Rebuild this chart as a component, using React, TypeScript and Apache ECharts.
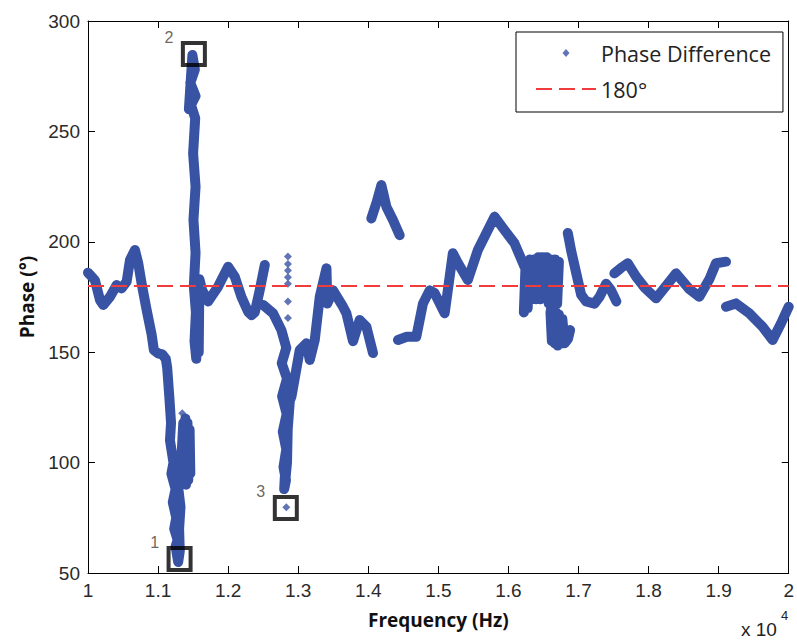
import React, { useEffect, useRef } from "react";
import * as echarts from "echarts";

// Frequency (Hz) and phase (deg) of the traced dense band; null = break between strands
const bandFreq: (number | null)[] = [
  10000, 10060, 10100, 10171, 10218, 10314, 10409, 10480, 10552, 10599, 10670, 10717, 10765, 10837, 10908, 10940,
  11000, 11060, 11110, 11130, 11160, 11185, 11170, 11220, 11190, 11250, 11210, 11260, 11230, 11280, 11250, 11287,
  11310, 11300, 11320, 11290, 11325, 11335,
  11360, 11370, 11390, 11400, 11420, 11430, 11450, 11460, null,
  11440, 11490, 11525, 11460, 11535, 11470, 11530, 11500, 11535, 11505, 11535, 11510, 11540, 11520, 11545, 11560,
  11580, 11590, 11630, 11714,
  11857, 12000, 12095, 12190, 12285, 12334, 12380, 12450, 12523, null,
  12499, 12642, 12760, 12830, 12765, 12840, 12770, 12835, 12780, 12830, 12790, 12825, 12800, 12820, 12810, 12840,
  12850, 12880, 12904, 12960,
  13022, 13118, 13165, 13236, 13307, 13403, 13415, 13497, 13639, 13688, 13782, 13877, 13973, 14067, null,
  14044, 14120, 14187, 14258, 14352, 14448, null,
  14424, 14550, 14685, 14780, 14875, 14946, 15090, 15207, 15279, 15421, 15564, 15659, 15802, 15944, 16087, 16230, null,
  16220, 16245, 16275, 16305, 16335, 16365, 16395, 16425, 16455, 16485, 16515, 16545, 16575, 16605, 16635, 16665,
  16695, 16720, 16600, 16620, 16640, 16660, 16680, 16700, 16720, 16745, 16770, 16800, 16850, 16880, null,
  16847, 16895, 16966, 17038, 17110, 17227, 17299, 17394, 17465, 17540, null,
  17512, 17600, 17702, 17822, 17950, 18107, 18250, 18392, 18580, 18724, 18867, 18962, 19105, null,
  19105, 19247, 19437, 19627, 19770, 19889, 20000,
];
const bandPhase: (number | null)[] = [
  186, 184, 182.5, 173.6, 171.4, 175.1, 180.4, 178.9, 182, 191.8, 196.3, 190.3, 181.2, 169.1, 158, 151,
  149.5, 149, 147, 143, 130, 118, 110, 100, 95, 88, 82, 75, 70, 65, 62, 55,
  60, 70, 80, 88, 95, 103,
  118, 92, 120, 90, 118, 92, 115, 95, null,
  260, 284.6, 278, 272, 266, 262, 256, 240, 225, 210, 195, 180, 168, 155, 147, 160,
  150, 183, 178, 173,
  179.7, 188.7, 184.2, 175, 168.3, 166.8, 168, 178, 189.5, null,
  171.4, 167.6, 160, 152, 145, 138, 130, 122, 114, 106, 98, 92, 88, 100, 90, 100,
  115, 128, 130, 140,
  151, 154, 146.5, 155.5, 175, 188, 172, 178, 170.6, 167.6, 155, 164.6, 161.5, 149.6, null,
  210.6, 218, 225.7, 215.9, 209.9, 203, null,
  155.5, 157, 157, 172, 178, 176.8, 167.6, 194.8, 190.4, 182.7, 196.3, 202.3, 211.4, 205.3, 199.3, 188.7, null,
  168, 190, 170, 192, 174, 192, 174, 193, 174, 193, 175, 193, 172, 192, 170, 192,
  172, 191, 168, 155, 168, 154, 168, 153, 167, 154, 165, 154, 156, 160, null,
  204, 196, 186, 176, 173, 172, 175, 181, 178, 173, null,
  185.7, 188, 190.3, 184.2, 179, 174.4, 180, 185.7, 178.6, 175.1, 183, 190.3, 191, null,
  170.6, 172.1, 167.6, 161.5, 155.5, 163, 170.6,
];

// Isolated diamond samples
const dotFreq = [12853, 12853, 12853, 12853, 12853, 12853, 12853, 11345, 12830];
const dotPhase = [193.3, 190, 187, 184, 181, 173, 165.5, 122.4, 79.8];

// Boxed (numbered) points
const markLabels = ["1", "2", "3"];
const markFreq = [11307, 11511, 12823];
const markPhase = [56.3, 285, 79.4];

// Reference line
const refFreq = [10000, 20000];
const refPhase = [180, 180];

const xTicks = { min: 10000, max: 20000, interval: 1000 };
const yTicks = { min: 50, max: 300, interval: 50 };

const BLUE = "#3953a4";
const RED = "#f03c3c";
// small diamond centred in a 60x8 legend slot (move-to corners fix the bounding box)
const LEGEND_DIAMOND = "path://M0,0M60,8M30,0L33.5,4L30,8L26.5,4Z";

export default function App() {
  const ref = useRef<HTMLDivElement>(null);
  useEffect(() => {
    if (!ref.current) return;
    const chart = echarts.init(ref.current, undefined, { renderer: "svg" });
    const band = bandFreq.map((f, i) =>
      f === null || bandPhase[i] === null ? ["-", "-"] : [f, bandPhase[i]]
    );
    const dots = dotFreq.map((f, i) => [f, dotPhase[i]]);
    const marks = markFreq.map((f, i) => ({ value: [f, markPhase[i]], name: markLabels[i] }));
    const refLine = refFreq.map((f, i) => [f, refPhase[i]]);

    const tickFont = { fontFamily: "Liberation Sans", fontSize: 19, color: "#2a2a2a" };
    const titleFont = { fontFamily: "Open Sans", fontWeight: "bold" as const, fontSize: 19, color: "#111" };
    const axisLine = { show: true, lineStyle: { color: "#000", width: 1 } };
    const axisTick = { show: true, inside: true, length: 7, lineStyle: { color: "#000", width: 1 } };

    chart.setOption({
      animation: false,
      backgroundColor: "#fff",
      grid: { left: 88, right: 7.5, top: 21, bottom: 69, containLabel: false },
      legend: {
        orient: "vertical",
        left: 516,
        top: 32,
        padding: [10, 12, 12, 19],
        itemWidth: 60,
        itemHeight: 8,
        itemGap: 14,
        borderColor: "#000",
        borderWidth: 1,
        backgroundColor: "#fff",
        textStyle: { fontFamily: "Open Sans", fontSize: 21.5, lineHeight: 20, color: "#222" },
        data: [
          { name: "Phase Difference", icon: LEGEND_DIAMOND },
          { name: "180°", itemStyle: { opacity: 0 } },
        ],
      },
      xAxis: [
        {
          type: "value",
          ...xTicks,
          position: "bottom",
          name: "Frequency (Hz)",
          nameLocation: "middle",
          nameGap: 37,
          nameTextStyle: titleFont,
          axisLine,
          axisTick,
          splitLine: { show: false },
          axisLabel: { ...tickFont, margin: 8, formatter: (v: number) => String(v / 10000) },
        },
        {
          type: "value",
          ...xTicks,
          position: "top",
          axisLine,
          axisTick,
          splitLine: { show: false },
          axisLabel: { show: false },
        },
      ],
      yAxis: [
        {
          type: "value",
          ...yTicks,
          position: "left",
          name: "Phase (°)",
          nameLocation: "middle",
          nameGap: 52,
          nameTextStyle: titleFont,
          axisLine,
          axisTick,
          splitLine: { show: false },
          axisLabel: { ...tickFont, margin: 8 },
        },
        {
          type: "value",
          ...yTicks,
          position: "right",
          axisLine,
          axisTick,
          splitLine: { show: false },
          axisLabel: { show: false },
        },
      ],
      series: [
        {
          name: "Phase Difference",
          type: "scatter",
          data: dots,
          symbol: "diamond",
          symbolSize: 8,
          itemStyle: { color: BLUE },
          z: 2,
        },
        {
          name: "Phase Difference",
          type: "line",
          data: band,
          connectNulls: false,
          showSymbol: false,
          symbol: "diamond",
          color: BLUE,
          lineStyle: { color: BLUE, width: 10, cap: "round", join: "round" },
          z: 2,
        },
        {
          name: "180°",
          type: "line",
          data: refLine,
          symbol: "none",
          color: RED,
          lineStyle: { color: RED, width: 2, type: [16, 7] },
          z: 4,
        },
        {
          name: "marks",
          type: "scatter",
          data: marks,
          symbol: "rect",
          symbolSize: 22,
          itemStyle: { color: "rgba(0,0,0,0)", borderColor: "#000", borderWidth: 4 },
          label: {
            show: true,
            formatter: (p: any) => p.name,
            position: [-12, -4],
            align: "center",
            verticalAlign: "middle",
            fontFamily: "Liberation Sans",
            fontSize: 16,
            color: "#4a3c30",
          },
          z: 5,
        },
      ],
      graphic: [
        {
          type: "text",
          left: 741,
          top: 620,
          style: { text: "x 10", fontFamily: "Liberation Sans", fontSize: 19, fill: "#222" },
        },
        {
          type: "text",
          left: 781,
          top: 609,
          style: { text: "4", fontFamily: "Liberation Sans", fontSize: 13, fill: "#222" },
        },
      ],
    });
    return () => chart.dispose();
  }, []);
  return (
    <div
      ref={ref}
      style={{ position: "fixed", left: 0, top: 0, width: 797, height: 642, background: "#fff" }}
    />
  );
}
